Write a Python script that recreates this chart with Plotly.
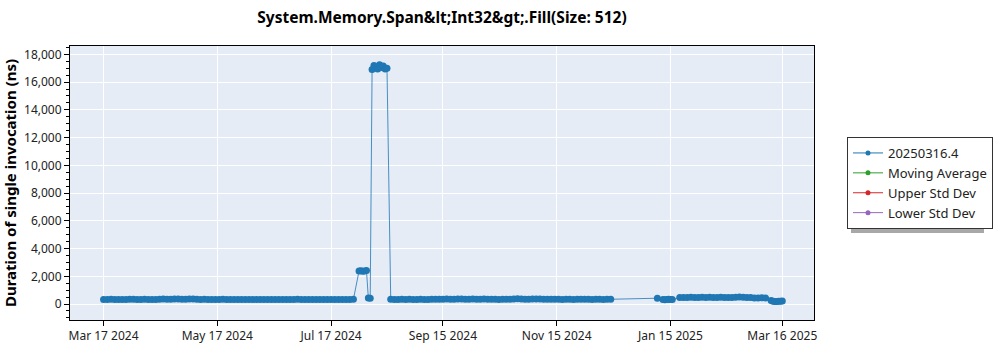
import plotly.graph_objects as go

# ---------------- data ----------------
dates = [
    # Mar - Jul 2024 baseline
    "2024-03-17", "2024-03-19", "2024-03-21", "2024-03-23", "2024-03-25", "2024-03-27", "2024-03-29", "2024-03-31",
    "2024-04-02", "2024-04-04", "2024-04-06", "2024-04-08", "2024-04-10", "2024-04-12", "2024-04-14", "2024-04-16",
    "2024-04-18", "2024-04-20", "2024-04-22", "2024-04-24", "2024-04-26", "2024-04-28", "2024-04-30",
    "2024-05-02", "2024-05-04", "2024-05-06", "2024-05-08", "2024-05-10", "2024-05-12", "2024-05-14", "2024-05-16",
    "2024-05-18", "2024-05-20", "2024-05-22", "2024-05-24", "2024-05-26", "2024-05-28", "2024-05-30",
    "2024-06-01", "2024-06-03", "2024-06-05", "2024-06-07", "2024-06-09", "2024-06-11", "2024-06-13", "2024-06-15",
    "2024-06-17", "2024-06-19", "2024-06-21", "2024-06-23", "2024-06-25", "2024-06-27", "2024-06-29",
    "2024-07-01", "2024-07-03", "2024-07-05", "2024-07-07", "2024-07-09", "2024-07-11", "2024-07-13", "2024-07-15",
    "2024-07-17", "2024-07-19", "2024-07-21", "2024-07-23", "2024-07-25", "2024-07-27", "2024-07-29",
    # step ~2400
    "2024-08-01", "2024-08-02", "2024-08-03", "2024-08-04", "2024-08-05",
    # dip
    "2024-08-06", "2024-08-07",
    # spike ~17000
    "2024-08-08", "2024-08-09", "2024-08-10", "2024-08-11", "2024-08-12",
    "2024-08-13", "2024-08-14", "2024-08-15", "2024-08-16",
    # baseline Aug - Dec 2024
    "2024-08-18", "2024-08-20", "2024-08-22", "2024-08-24", "2024-08-26", "2024-08-28", "2024-08-30",
    "2024-09-01", "2024-09-03", "2024-09-05", "2024-09-07", "2024-09-09", "2024-09-11", "2024-09-13", "2024-09-15",
    "2024-09-17", "2024-09-19", "2024-09-21", "2024-09-23", "2024-09-25", "2024-09-27", "2024-09-29",
    "2024-10-01", "2024-10-03", "2024-10-05", "2024-10-07", "2024-10-09", "2024-10-11", "2024-10-13", "2024-10-15",
    "2024-10-17", "2024-10-19", "2024-10-21", "2024-10-23", "2024-10-25", "2024-10-27", "2024-10-29", "2024-10-31",
    "2024-11-02", "2024-11-04", "2024-11-06", "2024-11-08", "2024-11-10", "2024-11-12", "2024-11-14", "2024-11-16",
    "2024-11-18", "2024-11-20", "2024-11-22", "2024-11-24", "2024-11-26", "2024-11-28", "2024-11-30",
    "2024-12-02", "2024-12-04", "2024-12-06", "2024-12-08", "2024-12-10", "2024-12-12", "2024-12-14",
    # Jan 2025
    "2025-01-08", "2025-01-11", "2025-01-12", "2025-01-13", "2025-01-14", "2025-01-15", "2025-01-16",
    # Jan - Mar 2025
    "2025-01-20", "2025-01-22", "2025-01-24", "2025-01-26", "2025-01-28", "2025-01-30",
    "2025-02-01", "2025-02-03", "2025-02-05", "2025-02-07", "2025-02-09", "2025-02-11", "2025-02-13",
    "2025-02-15", "2025-02-17", "2025-02-19", "2025-02-21", "2025-02-23", "2025-02-25", "2025-02-27",
    "2025-03-01", "2025-03-03", "2025-03-05", "2025-03-07",
    # end
    "2025-03-10", "2025-03-11", "2025-03-12", "2025-03-13", "2025-03-14",
    "2025-03-15", "2025-03-16",
]

durations = [
    # Mar - Jul 2024
    330, 335, 340, 330, 325, 335, 330, 340,
    345, 330, 335, 340, 330, 325, 335, 345,
    360, 350, 340, 355, 370, 350, 345,
    365, 355, 340, 335, 340, 330, 335, 325,
    330, 340, 335, 330, 320, 325, 330,
    335, 330, 325, 330, 335, 330, 325, 330,
    335, 330, 325, 330, 335, 330, 340,
    330, 325, 335, 330, 325, 330, 335, 330,
    325, 330, 335, 330, 325, 335, 340,
    # step
    2380, 2400, 2370, 2390, 2410,
    # dip
    430, 420,
    # spike
    16900, 17200, 17100, 16950, 17250, 17050, 17150, 16950, 17000,
    # Aug - Dec 2024
    340, 335, 330, 340, 335, 345, 330,
    335, 340, 330, 335, 340, 345, 350, 340,
    360, 345, 350, 365, 355, 340, 350,
    360, 345, 340, 355, 350, 345, 340, 335,
    340, 350, 345, 360, 375, 365, 350, 345,
    355, 370, 360, 345, 340, 350, 345, 340,
    335, 340, 345, 335, 340, 350, 345,
    340, 335, 345, 340, 335, 340, 345,
    # Jan 2025
    420, 330, 310, 320, 340, 330, 320,
    # Jan - Mar 2025
    470, 480, 475, 485, 480, 470,
    485, 480, 490, 480, 475, 485, 480,
    470, 480, 490, 500, 485, 475, 480,
    440, 430, 445, 435,
    # end
    260, 200, 180, 190, 210, 200, 220,
]

series_name = "20250316.4"
extra_series = ["Moving Average", "Upper Std Dev", "Lower Std Dev"]
extra_colors = ["#2ca02c", "#d62728", "#9467bd"]

tick_dates = ["2024-03-17", "2024-05-17", "2024-07-17", "2024-09-15",
              "2024-11-15", "2025-01-15", "2025-03-16"]
tick_labels = ["Mar 17 2024", "May 17 2024", "Jul 17 2024", "Sep 15 2024",
               "Nov 15 2024", "Jan 15 2025", "Mar 16 2025"]

title_text = "System.Memory.Span&amp;lt;Int32&amp;gt;.Fill(Size: 512)"
y_title = "Duration of single invocation (ns)"

# ---------------- figure ----------------
FONT = "Noto Sans"
W, H = 1000, 350
ML, MR, MT, MB = 70, 186, 46, 30
PW, PH = W - ML - MR, H - MT - MB
BLUE = "#1f77b4"

fig = go.Figure()
# main series (legend entry drawn by a proxy with smaller marker)
fig.add_trace(go.Scatter(
    x=dates, y=durations, mode="lines+markers", name=series_name,
    line=dict(color="rgba(31,119,180,0.8)", width=1),
    marker=dict(color=BLUE, size=7), showlegend=False,
))
fig.add_trace(go.Scatter(
    x=[dates[0]], y=[None], mode="lines+markers", name=series_name,
    line=dict(color=BLUE, width=1), marker=dict(color=BLUE, size=5),
))
for nm, col in zip(extra_series, extra_colors):
    fig.add_trace(go.Scatter(
        x=[dates[0]], y=[None], mode="lines+markers", name=nm,
        line=dict(color=col, width=1), marker=dict(color=col, size=5),
    ))

def px_x(p):
    return (p - ML) / PW

def px_y(p):
    return (H - MB - p) / PH

# legend shadow
fig.add_shape(type="rect", xref="paper", yref="paper",
              x0=px_x(851), x1=px_x(984), y0=px_y(233), y1=px_y(141),
              fillcolor="#a8a8a8", line=dict(width=0), layer="above")

fig.update_layout(
    width=W, height=H,
    margin=dict(l=ML, r=MR, t=MT, b=MB, autoexpand=False),
    paper_bgcolor="white", plot_bgcolor="#e5ecf6",
    font=dict(family=FONT, size=12, color="#222"),
    title=dict(text="<b>" + title_text + "</b>", x=px_x(442), xanchor="center",
               xref="paper", y=1 - 18 / H, yanchor="middle",
               font=dict(size=15.5, color="black")),
    showlegend=True,
    legend=dict(x=px_x(847), y=px_y(137), xanchor="left", yanchor="top",
                bgcolor="white", bordercolor="#333", borderwidth=1,
                font=dict(size=13, color="#222"), tracegroupgap=0),
)
fig.update_xaxes(
    type="date", range=["2024-02-28", "2025-04-02"],
    tickvals=tick_dates, ticktext=tick_labels,
    showgrid=True, gridcolor="white", gridwidth=1,
    showline=True, linecolor="black", linewidth=1, mirror=True,
    ticks="outside", ticklen=5, tickcolor="black",
    zeroline=False, automargin=False,
)
fig.update_yaxes(
    range=[-1150, 18600], dtick=2000, tick0=0, tickformat=",",
    showgrid=True, gridcolor="white", gridwidth=1,
    showline=True, linecolor="black", linewidth=1, mirror=True,
    ticks="outside", ticklen=5, tickcolor="black",
    minor=dict(dtick=500, ticks="outside", ticklen=3, tickcolor="black", showgrid=False),
    zeroline=False, automargin=False,
    title=dict(text="<b>" + y_title + "</b>", font=dict(size=15, color="black"), standoff=6),
)

fig.write_html("out.html")
